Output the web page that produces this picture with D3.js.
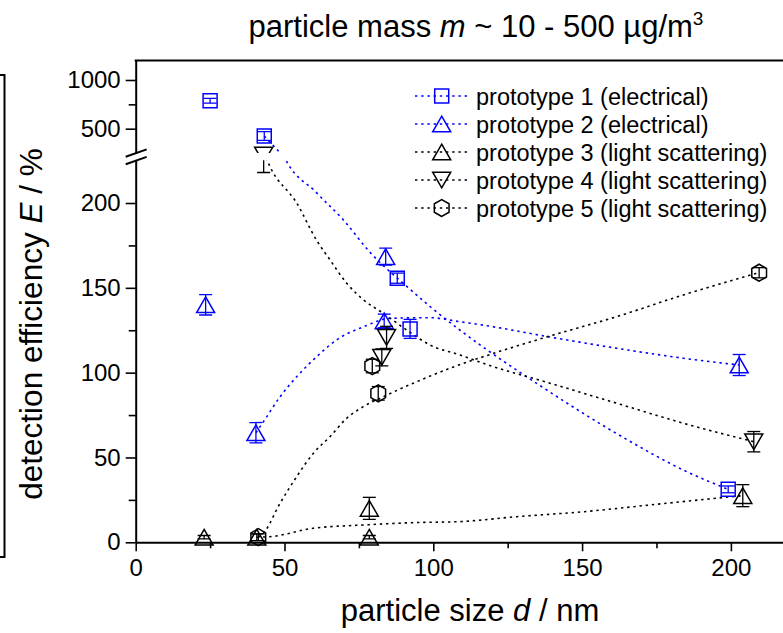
<!DOCTYPE html>
<html><head><meta charset="utf-8">
<script src="https://cdn.jsdelivr.net/npm/d3@7"></script>
<style>
body{margin:0;background:#fff}
svg{display:block}
text{font-family:"Liberation Sans",Arial,sans-serif;fill:#000}
</style>
</head><body><svg id="c" width="783" height="633"></svg>
<script>
// ---------------- data ----------------
const seriesNames = ["prototype 1 (electrical)","prototype 2 (electrical)","prototype 3 (light scattering)","prototype 4 (light scattering)","prototype 5 (light scattering)"];

const sizes1 = [25.0, 43.2, 87.9, 92.2, 199.1];
const eff1   = [787, 425, 155.7, 125.8, 31.2];
const err1   = [25, 45, 3, 5.6, 2];

const sizes2 = [23.5, 40.4, 83.5, 84.0, 202.8];
const eff2   = [140, 64.6, 130.5, 168.4, 104.5];
const err2   = [6, 6, 4, 5, 6.2];

const sizes3 = [23.0, 40.7, 78.5, 78.5, 204.0];
const eff3   = [3, 3, 20, 3, 27.5];
const err3   = [1, 2, 6.5, 1, 6.5];

const sizes4 = [43.0, 84.3, 82.7, 207.7];
const eff4   = [230, 120.8, 109, 59.3];
const err4   = [12, 6.5, 5, 6];

const sizes5 = [41.2, 79.5, 81.5, 209.5];
const eff5   = [3, 103.9, 87.8, 158.9];
const err5   = [2, 4, 4, 3];

// fitted guide curves (d, E)
const fit1 = [[43.2,425],[47.4,290],[49.5,229],[60.8,206],[69.8,190],[78.7,171],[91,151],[98.9,139],[109,125],[116.8,115],[133.6,95],[150.4,76],[167.2,58.4],[184,42.6],[199.1,31.2]];
const fit2 = [[40.4,64.6],[42.9,71],[48.5,85.8],[54.1,97.6],[60.8,109.4],[67.5,119.3],[76.5,127],[85.4,132],[98.9,132.4],[109,130],[116.8,128],[139.2,121],[161.6,114.4],[184,108.5],[202.8,104.5]];
const fit3 = [[40.7,3],[45.1,3.3],[59.7,8.3],[76.5,10.2],[93.3,11.6],[109,12.2],[128,15.1],[150.4,18],[172.8,22],[195.2,26],[204,27.5]];
const fit4 = [[43,230],[45.1,221.5],[54.1,200],[60.8,178],[65.3,166.5],[70.9,152.7],[76.5,143],[83.2,135],[91,125.2],[98.9,116.3],[109,110.4],[116.8,105.5],[139.2,93.8],[161.6,82],[184,70.2],[207.7,59.3]];
const fit5 = [[41.2,3],[42.9,5.3],[48.5,23],[54.1,38.7],[59.7,52.5],[65.3,62.3],[70.9,73.1],[76.5,80],[83.2,85.8],[93.3,93.8],[105.6,102.6],[116.8,109.4],[139.2,121.6],[161.6,133],[184,145.8],[209.5,159]];

const xTicks = [0, 50, 100, 150, 200];
const xMinor = [25, 75, 125, 175];
const yLowTicks = [0, 50, 100, 150, 200];
const yLowMinor = [25, 75, 125, 175];
const yUpTicks = [500, 1000];
const yUpMinor = [750];

// ---------------- layout ----------------
const BLUE = "#0000ff", BLACK = "#000";
const X0 = 135.7, X1 = 790.4, YB = 542.3, YT = 60.5;
const x = d3.scaleLinear().domain([0, 220]).range([X0, X1]);
const yLow = d3.scaleLinear().domain([0, 225]).range([YB, 160.6]);
const yUp = d3.scaleLinear().domain([250, 1200]).range([153.05, YT]);

const svg = d3.select("#c");
const defs = svg.append("defs");
defs.append("clipPath").attr("id","clipLow").append("rect")
  .attr("x", X0 - 20).attr("y", yLow.range()[1]).attr("width", X1 - X0 + 40).attr("height", YB - yLow.range()[1] + 20);
defs.append("clipPath").attr("id","clipUp").append("rect")
  .attr("x", X0 - 20).attr("y", YT - 10).attr("width", X1 - X0 + 40).attr("height", yUp.range()[0] - YT + 10);

const syms = {
  square: "M-7,-7h14v14h-14Z",
  triUp: "M0,-7.8L9,7.8L-9,7.8Z",
  triDown: "M0,7.8L9,-7.8L-9,-7.8Z",
  hex: (() => { const r = 8.5; const p = d3.range(6).map(i => { const a = Math.PI/2 + i*Math.PI/3; return [r*Math.cos(a), r*Math.sin(a)]; }); return "M" + p.map(q => q.join(",")).join("L") + "Z"; })()
};

const series = [
  {name: seriesNames[0], color: BLUE,  sym: "square",  d: sizes1, e: eff1, err: err1, fit: fit1},
  {name: seriesNames[1], color: BLUE,  sym: "triUp",   d: sizes2, e: eff2, err: err2, fit: fit2},
  {name: seriesNames[2], color: BLACK, sym: "triUp",   d: sizes3, e: eff3, err: err3, fit: fit3},
  {name: seriesNames[3], color: BLACK, sym: "triDown", d: sizes4, e: eff4, err: err4, fit: fit4},
  {name: seriesNames[4], color: BLACK, sym: "hex",     d: sizes5, e: eff5, err: err5, fit: fit5}
];

const DASH = "2.4,3.8";

function drawPanel(yS, clipId, keep) {
  const g = svg.append("g").attr("clip-path", `url(#${clipId})`);
  series.forEach(s => {
    const line = d3.line().x(p => x(p[0])).y(p => yS(p[1])).curve(d3.curveMonotoneX);
    g.append("path").attr("d", line(s.fit)).attr("fill","none")
      .attr("stroke", s.color).attr("stroke-width", 1.6).attr("stroke-dasharray", DASH);
  });
  series.forEach(s => {
    const pts = s.d.map((d, i) => ({d, e: s.e[i], err: s.err[i]})).filter(p => keep(p.e));
    const eg = g.append("g").attr("stroke", s.color).attr("stroke-width", 1.3).attr("fill","none");
    pts.forEach(p => {
      const cx = x(p.d), ya = yS(p.e - p.err), yb = yS(p.e + p.err);
      eg.append("line").attr("x1", cx).attr("x2", cx).attr("y1", ya).attr("y2", yb);
      eg.append("line").attr("x1", cx - 6.5).attr("x2", cx + 6.5).attr("y1", ya).attr("y2", ya);
      eg.append("line").attr("x1", cx - 6.5).attr("x2", cx + 6.5).attr("y1", yb).attr("y2", yb);
    });
    g.selectAll(null).data(pts).join("path")
      .attr("d", syms[s.sym])
      .attr("transform", p => `translate(${x(p.d)},${yS(p.e)})`)
      .attr("fill","none").attr("stroke", s.color).attr("stroke-width", 1.5);
  });
}
drawPanel(yLow, "clipLow", v => v <= 250);
drawPanel(yUp, "clipUp", v => v >= 225);

// ---------------- axes ----------------
function styleAxis(g, fs) {
  g.attr("font-family", null).attr("font-size", null);
  g.selectAll("text").style("font-size", fs + "px").style("font-family", '"Liberation Sans",Arial,sans-serif').attr("fill", "#000");
  g.selectAll("line").attr("stroke", "#000").attr("stroke-width", 1.6);
  g.select(".domain").attr("stroke", "#000").attr("stroke-width", 2);
}
const gx = svg.append("g").attr("transform", `translate(0,${YB})`)
  .call(d3.axisBottom(x).tickValues(xTicks).tickSize(9).tickSizeOuter(0).tickPadding(8).tickFormat(d3.format("d")));
styleAxis(gx, 24);
const gxm = svg.append("g").attr("transform", `translate(0,${YB})`)
  .call(d3.axisBottom(x).tickValues(xMinor).tickSize(6).tickSizeOuter(0).tickFormat(""));
styleAxis(gxm, 24);
gxm.select(".domain").remove();

const gyl = svg.append("g").attr("transform", `translate(${X0},0)`)
  .call(d3.axisLeft(yLow).tickValues(yLowTicks).tickSize(10).tickSizeOuter(0).tickPadding(5).tickFormat(d3.format("d")));
styleAxis(gyl, 24);
const gylm = svg.append("g").attr("transform", `translate(${X0},0)`)
  .call(d3.axisLeft(yLow).tickValues(yLowMinor).tickSize(7).tickSizeOuter(0).tickFormat(""));
styleAxis(gylm, 24); gylm.select(".domain").remove();

const gyu = svg.append("g").attr("transform", `translate(${X0},0)`)
  .call(d3.axisLeft(yUp).tickValues(yUpTicks).tickSize(10).tickSizeOuter(0).tickPadding(5).tickFormat(d3.format("d")));
styleAxis(gyu, 24);
const gyum = svg.append("g").attr("transform", `translate(${X0},0)`)
  .call(d3.axisLeft(yUp).tickValues(yUpMinor).tickSize(7).tickSizeOuter(0).tickFormat(""));
styleAxis(gyum, 24); gyum.select(".domain").remove();

// top frame
svg.append("line").attr("x1", X0 - 1).attr("x2", X1).attr("y1", YT).attr("y2", YT).attr("stroke", "#000").attr("stroke-width", 2);

// break marks
[yUp.range()[0], yLow.range()[1]].forEach(yb => {
  svg.append("line").attr("x1", X0 - 10).attr("x2", X0 + 11).attr("y1", yb + 3.7).attr("y2", yb - 3.7)
    .attr("stroke", "#000").attr("stroke-width", 2);
});

// left bracket
svg.append("path").attr("d", "M0,75H4.5V557H0").attr("fill","none").attr("stroke","#000").attr("stroke-width",2);

// ---------------- titles ----------------
const title = svg.append("text").attr("x", 476).attr("y", 37).attr("text-anchor","middle").style("font-size","31px");
title.append("tspan").text("particle mass ");
title.append("tspan").style("font-style","italic").text("m");
title.append("tspan").text(" ~ 10 - 500 µg/m");
title.append("tspan").attr("dy", -12).style("font-size","19px").text("3");

const xt = svg.append("text").attr("x", 470).attr("y", 621).attr("text-anchor","middle").style("font-size","31px");
xt.append("tspan").text("particle size ");
xt.append("tspan").style("font-style","italic").text("d");
xt.append("tspan").text(" / nm");

const yt = svg.append("text").attr("transform","translate(41.5,324) rotate(-90)").attr("text-anchor","middle").style("font-size","31.5px");
yt.append("tspan").text("detection efficiency ");
yt.append("tspan").style("font-style","italic").text("E");
yt.append("tspan").text(" / %");

// ---------------- legend ----------------
const leg = svg.append("g");
series.forEach((s, i) => {
  const ly = 96 + i * 28;
  leg.append("line").attr("x1", 415).attr("x2", 468).attr("y1", ly).attr("y2", ly)
    .attr("stroke", s.color).attr("stroke-width", 1.6).attr("stroke-dasharray", DASH);
  leg.append("path").attr("d", syms[s.sym]).attr("transform", `translate(441.7,${ly})`)
    .attr("fill","none").attr("stroke", s.color).attr("stroke-width", 1.5);
  leg.append("text").attr("x", 476).attr("y", ly + 8.5).style("font-size","23.5px").text(s.name);
});
</script>
</body></html>
